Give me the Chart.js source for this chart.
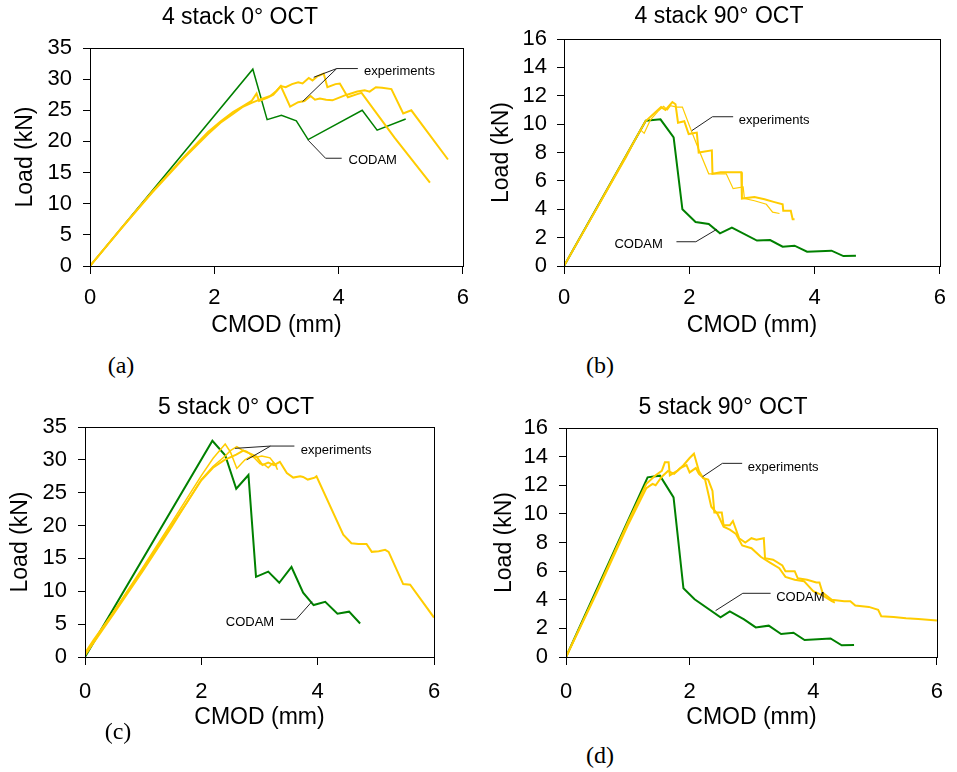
<!DOCTYPE html>
<html>
<head>
<meta charset="utf-8">
<script src="https://cdn.jsdelivr.net/npm/chart.js@4"></script>
<style>
  body { margin: 0; background: #fff; width: 957px; height: 772px; position: relative; overflow: hidden; }
  canvas { position: absolute; }
  .tag { position: absolute; font-family: "Liberation Serif", "Times New Roman", serif; font-size: 24px;
         color: #000; transform: translate(-50%, -50%); }
</style>
</head>
<body>
<canvas id="cA" width="480" height="340" style="left:0;top:0"></canvas>
<canvas id="cB" width="477" height="340" style="left:480px;top:0"></canvas>
<canvas id="cC" width="480" height="342" style="left:0;top:390px"></canvas>
<canvas id="cD" width="477" height="342" style="left:480px;top:390px"></canvas>
<div class="tag" style="left:121px;top:365px">(a)</div>
<div class="tag" style="left:600px;top:365px">(b)</div>
<div class="tag" style="left:118px;top:731px">(c)</div>
<div class="tag" style="left:600px;top:755px">(d)</div>
<script>
// tick labels
const xTickVals = [0, 2, 4, 6];
const yTicks0deg = [0, 5, 10, 15, 20, 25, 30, 35];
const yTicks90deg = [0, 2, 4, 6, 8, 10, 12, 14, 16];

// (a) 4 stack 0° OCT
const a_codam_x = [0, 2.62, 2.85, 3.08, 3.32, 3.51, 4.38, 4.62, 5.08];
const a_codam_y = [0, 31.6, 23.5, 24.2, 23.3, 20.3, 25.0, 21.8, 23.6];
const a_exp1_x = [0, 0.5, 1.0, 1.5, 1.9, 2.1, 2.3, 2.45, 2.6, 2.68, 2.72, 2.85, 2.95, 3.07, 3.22, 3.35, 3.45, 3.55, 3.62, 3.7, 3.8, 3.9, 4.0, 4.1, 4.2, 4.3, 4.42, 4.5, 4.6, 4.7, 4.85, 5.04, 5.17, 5.76];
const a_exp1_y = [0, 6.0, 11.9, 17.4, 21.5, 23.2, 24.7, 25.6, 26.5, 27.7, 26.5, 27.0, 27.5, 28.9, 25.6, 26.3, 26.5, 27.3, 26.7, 26.9, 26.7, 26.6, 27.0, 27.4, 27.7, 28.0, 28.2, 28.0, 28.7, 28.6, 28.4, 24.5, 25.0, 17.1];
const a_exp2_x = [0, 0.5, 1.0, 1.5, 1.9, 2.1, 2.3, 2.45, 2.6, 2.75, 2.9, 3.0, 3.07, 3.15, 3.25, 3.35, 3.42, 3.52, 3.58, 3.65, 3.76, 3.82, 3.95, 4.02, 4.15, 4.3, 4.37, 4.9, 5.47];
const a_exp2_y = [0, 6.0, 11.8, 17.2, 21.2, 23.0, 24.4, 25.5, 26.2, 26.8, 27.3, 28.1, 28.9, 28.7, 29.2, 29.5, 29.3, 30.2, 29.8, 30.4, 30.9, 28.7, 29.2, 29.3, 27.1, 27.6, 27.8, 20.6, 13.4];

// (b) 4 stack 90° OCT
const b_codam_x = [0, 1.305, 1.54, 1.75, 1.89, 2.10, 2.31, 2.49, 2.68, 3.08, 3.29, 3.49, 3.68, 3.88, 4.27, 4.46, 4.66];
const b_codam_y = [0, 10.24, 10.34, 9.07, 4.0, 3.1, 2.96, 2.3, 2.7, 1.79, 1.83, 1.36, 1.43, 1.01, 1.08, 0.70, 0.73];
const b_exp1_x = [0, 0.5, 1.0, 1.3, 1.45, 1.55, 1.62, 1.73, 1.78, 1.82, 1.92, 1.99, 2.12, 2.15, 2.36, 2.37, 2.5, 2.65, 2.83, 2.84, 3.04, 3.2, 3.36, 3.49, 3.5, 3.62, 3.65, 3.68];
const b_exp1_y = [0, 3.9, 7.85, 10.2, 10.8, 11.2, 11.0, 11.56, 11.4, 10.1, 10.2, 9.3, 9.4, 8.0, 8.15, 6.5, 6.6, 6.6, 6.6, 4.75, 4.86, 4.7, 4.5, 4.35, 3.9, 3.9, 3.3, 3.3];
const b_exp2_x = [0, 0.5, 1.0, 1.22, 1.28, 1.38, 1.5, 1.59, 1.65, 1.7, 1.8, 1.89, 2.04, 2.17, 2.31, 2.45, 2.59, 2.7, 2.86, 2.88, 3.04, 3.23, 3.33, 3.44];
const b_exp2_y = [0, 3.85, 7.7, 9.6, 9.35, 10.3, 10.9, 11.25, 11.0, 11.3, 11.2, 11.2, 9.45, 8.0, 6.5, 6.5, 6.5, 5.45, 5.57, 4.75, 4.6, 4.35, 3.8, 3.7];

// (c) 5 stack 0° OCT
const c_codam_x = [0, 2.19, 2.41, 2.6, 2.81, 2.94, 3.15, 3.34, 3.55, 3.75, 3.93, 4.13, 4.34, 4.54, 4.73];
const c_codam_y = [0, 32.9, 30.7, 25.6, 27.7, 12.2, 13.0, 11.3, 13.7, 9.8, 7.9, 8.4, 6.6, 6.9, 5.1];
const c_exp1_x = [0, 0.15, 0.5, 1.0, 1.5, 1.75, 2.0, 2.2, 2.4, 2.6, 2.72, 2.85, 2.95, 3.05, 3.15, 3.25, 3.35, 3.47, 3.58, 3.7, 3.75, 3.83, 3.95, 3.98, 4.44, 4.58, 4.7, 4.84, 4.93, 5.05, 5.16, 5.22, 5.47, 5.59, 6.0];
const c_exp1_y = [0.6, 2.6, 6.9, 13.4, 20.2, 23.5, 26.9, 28.8, 30.0, 30.8, 31.4, 30.9, 30.5, 29.2, 29.6, 29.2, 29.7, 28.0, 27.3, 27.5, 27.4, 27.0, 27.3, 27.5, 18.6, 17.3, 17.2, 17.2, 16.0, 16.1, 16.3, 16.0, 11.1, 11.0, 6.0];
const c_exp2_x = [0, 0.5, 1.0, 1.5, 2.0, 2.2, 2.41, 2.5, 2.61, 2.75, 2.85, 2.95, 3.04, 3.18, 3.27, 3.31];
const c_exp2_y = [0.3, 7.0, 13.7, 20.6, 27.6, 30.2, 32.4, 31.2, 28.7, 30.0, 30.5, 30.4, 30.6, 30.3, 29.3, 28.5];
const c_exp3_x = [0, 0.5, 1.0, 1.5, 2.0, 2.2, 2.4, 2.5, 2.61, 2.7, 2.78, 2.85, 2.92, 3.01, 3.08, 3.15, 3.24, 3.3];
const c_exp3_y = [0.2, 6.6, 13.1, 19.9, 27.0, 29.0, 30.5, 31.4, 32.0, 31.5, 31.3, 30.8, 30.2, 29.4, 29.3, 28.8, 29.6, 29.0];

// (d) 5 stack 90° OCT
const d_codam_x = [0, 1.32, 1.52, 1.74, 1.9, 2.08, 2.5, 2.65, 2.88, 3.07, 3.28, 3.48, 3.68, 3.86, 4.28, 4.46, 4.66];
const d_codam_y = [0, 12.55, 12.67, 11.15, 4.8, 4.03, 2.77, 3.19, 2.63, 2.07, 2.19, 1.61, 1.70, 1.19, 1.30, 0.82, 0.84];
const d_exp1_x = [0, 0.5, 1.0, 1.3, 1.45, 1.55, 1.6, 1.66, 1.68, 1.8, 1.9, 2.0, 2.07, 2.15, 2.22, 2.3, 2.37, 2.4, 2.52, 2.55, 2.65, 2.7, 2.8, 2.9, 3.0, 3.08, 3.2, 3.22, 3.35, 3.5, 3.55, 3.7, 3.75, 3.9, 4.05, 4.1, 4.15, 4.3, 4.5, 4.6, 4.68, 4.9, 5.05, 5.1, 5.3, 5.5, 5.7, 6.0];
const d_exp1_y = [0, 4.6, 9.4, 12.1, 12.7, 13.0, 13.6, 13.6, 12.7, 13.0, 13.4, 13.9, 14.2, 13.0, 12.5, 12.4, 11.6, 10.1, 10.1, 9.2, 9.2, 9.5, 8.3, 8.0, 8.3, 8.2, 8.3, 6.9, 6.8, 6.4, 6.0, 6.0, 5.5, 5.4, 5.2, 5.2, 4.5, 4.0, 3.9, 3.9, 3.6, 3.5, 3.3, 2.85, 2.8, 2.7, 2.65, 2.55];
const d_exp2_x = [0, 0.5, 1.0, 1.3, 1.4, 1.45, 1.55, 1.65, 1.75, 1.85, 1.95, 2.0, 2.1, 2.15, 2.25, 2.35, 2.45, 2.55, 2.65, 2.75, 2.85, 3.0, 3.15, 3.3, 3.45, 3.55, 3.7, 3.85, 4.0, 4.15, 4.3, 4.35];
const d_exp2_y = [0, 4.5, 9.2, 11.8, 12.1, 12.0, 12.6, 13.0, 12.8, 13.2, 13.4, 12.9, 13.2, 12.8, 12.4, 10.5, 10.0, 9.1, 8.9, 8.6, 7.8, 7.6, 7.0, 6.6, 6.2, 5.6, 5.4, 5.3, 4.6, 4.3, 3.9, 3.8];

const YELLOW = '#FFCC00';
const GREEN = '#008000';
const FONT = '"Liberation Sans", Arial, Helvetica, sans-serif';

const pts = (xs, ys) => xs.map((x, i) => ({ x, y: ys[i] }));

// panel setup: layout + annotation anchors (in data units)
const panels = [
  {
    id: 'cA', title: '4 stack 0° OCT', titleX: 240, titleY: 18, yTicks: yTicks0deg,
    pad: { left: 0, top: 48, right: 15, bottom: 0 }, yW: 90, xH: 74, yTitlePad: 12, yTickPad: 11, xTickPad: 11,
    series: [[a_exp1_x, a_exp1_y, YELLOW, 2], [a_exp2_x, a_exp2_y, YELLOW, 2], [a_codam_x, a_codam_y, GREEN, 1.5]],
    texts: [['experiments', 4.41, 31.2], ['CODAM', 4.16, 17.0]],
    leaders: [[[4.31, 31.7], [3.97, 31.7], [3.6, 30.3]], [[3.97, 31.7], [3.42, 26.4]], [[4.05, 17.3], [3.79, 17.3], [3.51, 20.2]]]
  },
  {
    id: 'cB', title: '4 stack 90° OCT', titleX: 239, titleY: 17, yTicks: yTicks90deg,
    pad: { left: 0, top: 39, right: 13, bottom: 0 }, yW: 84, xH: 74, yTitlePad: 8, yTickPad: 10, xTickPad: 11,
    series: [[b_exp1_x, b_exp1_y, YELLOW, 2], [b_exp2_x, b_exp2_y, YELLOW, 1.2], [b_codam_x, b_codam_y, GREEN, 2]],
    texts: [['experiments', 2.79, 10.24], ['CODAM', 0.805, 1.53]],
    leaders: [[[2.70, 10.52], [2.37, 10.52], [2.04, 9.54]], [[1.795, 1.71], [2.105, 1.71], [2.44, 2.59]]]
  },
  {
    id: 'cC', title: '5 stack 0° OCT', titleX: 236, titleY: 18, yTicks: yTicks0deg,
    pad: { left: 0, top: 37, right: 46, bottom: 0 }, yW: 85, xH: 75, yTitlePad: 7, yTickPad: 11, xTickPad: 14,
    series: [[c_exp1_x, c_exp1_y, YELLOW, 2], [c_exp2_x, c_exp2_y, YELLOW, 1.5], [c_exp3_x, c_exp3_y, YELLOW, 1.5], [c_codam_x, c_codam_y, GREEN, 2]],
    texts: [['experiments', 3.71, 31.5], ['CODAM', 2.42, 5.28]],
    leaders: [[[3.6, 32.1], [3.19, 32.1], [2.58, 31.75]], [[3.19, 32.1], [2.78, 30.0]], [[3.36, 5.73], [3.63, 5.73], [3.9, 8.42]]]
  },
  {
    id: 'cD', title: '5 stack 90° OCT', titleX: 243, titleY: 18, yTicks: yTicks90deg,
    pad: { left: 0, top: 38, right: 9, bottom: 0 }, yW: 86, xH: 75, yTitlePad: 11, yTickPad: 11, xTickPad: 14,
    series: [[d_exp1_x, d_exp1_y, YELLOW, 2], [d_exp2_x, d_exp2_y, YELLOW, 2], [d_codam_x, d_codam_y, GREEN, 2]],
    texts: [['experiments', 2.94, 13.23], ['CODAM', 3.40, 4.14]],
    leaders: [[[2.85, 13.53], [2.53, 13.53], [2.21, 12.6]], [[3.31, 4.45], [2.86, 4.45], [2.42, 3.24]]]
  }
];

// frame, title, leader lines and labels
function extras(p) {
  return {
    id: 'extras',
    afterDatasetsDraw(chart) {
      const { ctx, chartArea: a, scales: { x, y } } = chart;
      ctx.save();
      ctx.strokeStyle = '#000';
      ctx.lineWidth = 1;
      const l = Math.round(a.left) + 0.5, t = Math.round(a.top) + 0.5;
      ctx.strokeRect(l, t, Math.round(a.right) - Math.round(a.left), Math.round(a.bottom) - Math.round(a.top));
      ctx.strokeStyle = '#222';
      p.leaders.forEach(seg => {
        ctx.beginPath();
        seg.forEach(([vx, vy], i) => {
          const px = x.getPixelForValue(vx), py = y.getPixelForValue(vy);
          i ? ctx.lineTo(px, py) : ctx.moveTo(px, py);
        });
        ctx.stroke();
      });
      ctx.fillStyle = '#000';
      ctx.font = '13px ' + FONT;
      ctx.textAlign = 'left';
      ctx.textBaseline = 'middle';
      p.texts.forEach(([s, vx, vy]) => ctx.fillText(s, x.getPixelForValue(vx), y.getPixelForValue(vy)));
      ctx.font = '23px ' + FONT;
      ctx.textAlign = 'center';
      ctx.fillText(p.title, p.titleX, p.titleY);
      ctx.restore();
    }
  };
}

panels.forEach(p => {
  new Chart(document.getElementById(p.id), {
    type: 'scatter',
    data: {
      datasets: p.series.map(([xs, ys, col, w]) => ({
        data: pts(xs, ys), showLine: true, borderColor: col, backgroundColor: col,
        borderWidth: w, pointRadius: 0, tension: 0
      }))
    },
    options: {
      responsive: false,
      animation: false,
      layout: { padding: p.pad },
      plugins: { legend: { display: false }, tooltip: { enabled: false } },
      scales: {
        x: {
          type: 'linear', min: 0, max: 6,
          afterBuildTicks: s => { s.ticks = xTickVals.map(v => ({ value: v })); },
          afterFit: s => { s.height = p.xH; },
          ticks: { color: '#000', font: { size: 22, family: FONT }, padding: p.xTickPad, maxRotation: 0, autoSkip: false },
          grid: { drawOnChartArea: false, drawTicks: true, tickLength: 8, color: '#000' },
          border: { display: true, color: '#000', width: 1 },
          title: { display: true, text: 'CMOD (mm)', color: '#000', font: { size: 23, family: FONT }, padding: { top: 0, bottom: 1 } }
        },
        y: {
          type: 'linear', min: 0, max: p.yTicks[p.yTicks.length - 1],
          afterBuildTicks: s => { s.ticks = p.yTicks.map(v => ({ value: v })); },
          afterFit: s => { s.width = p.yW; },
          ticks: { color: '#000', font: { size: 22, family: FONT }, padding: p.yTickPad, autoSkip: false },
          grid: { drawOnChartArea: false, drawTicks: true, tickLength: 7, color: '#000' },
          border: { display: true, color: '#000', width: 1 },
          title: { display: true, text: 'Load (kN)', color: '#000', font: { size: 23, family: FONT }, padding: { top: p.yTitlePad, bottom: 0 } }
        }
      }
    },
    plugins: [extras(p)]
  });
});
</script>
</body>
</html>
